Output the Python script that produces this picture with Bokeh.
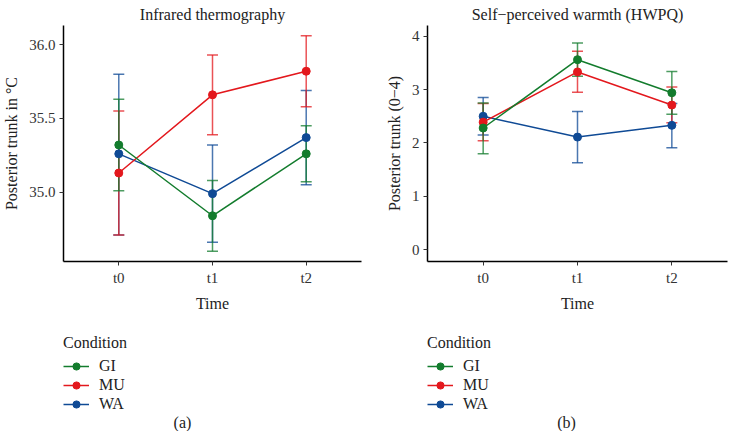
from bokeh.plotting import figure
from bokeh.models import (FactorRange, Range1d, Whisker, TeeHead, ColumnDataSource,
                          Legend, LegendItem, Label, FixedTicker)
from bokeh.layouts import row, column
from bokeh.embed import file_html
from bokeh.resources import INLINE

times = ["t0", "t1", "t2"]
conditions = ["GI", "MU", "WA"]
colors = {"GI": "#137C2D", "MU": "#E3181D", "WA": "#0F4A95"}

# Infrared thermography (°C): mean, lower, upper
ir_mean = {"GI": [35.32, 34.84, 35.26], "MU": [35.13, 35.66, 35.82], "WA": [35.26, 34.99, 35.37]}
ir_lo = {"GI": [35.01, 34.60, 35.07], "MU": [34.71, 35.39, 35.58], "WA": [34.71, 34.66, 35.05]}
ir_hi = {"GI": [35.63, 35.08, 35.45], "MU": [35.55, 35.93, 36.06], "WA": [35.80, 35.32, 35.69]}

# Self-perceived warmth (HWPQ, 0-4)
hw_mean = {"GI": [2.28, 3.56, 2.94], "MU": [2.39, 3.33, 2.71], "WA": [2.50, 2.11, 2.33]}
hw_lo = {"GI": [1.80, 3.25, 2.54], "MU": [2.04, 2.95, 2.38], "WA": [2.15, 1.63, 1.91]}
hw_hi = {"GI": [2.75, 3.87, 3.34], "MU": [2.74, 3.72, 3.05], "WA": [2.85, 2.59, 2.74]}

ir_ticks = [35.0, 35.5, 36.0]
hw_ticks = [0, 1, 2, 3, 4]

FONT = "Liberation Serif"
PLOT_H = 314
LEG_H = 117


def make_panel(title, ylabel, mean, lo, hi, yrange, yticks, caption, width, bl, br, cap_x, fmt):
    p = figure(x_range=FactorRange(*times, range_padding=0.09, range_padding_units="absolute"),
               y_range=Range1d(*yrange), width=width, height=PLOT_H,
               output_backend="svg", toolbar_location=None,
               min_border_left=bl, min_border_right=br, min_border_top=22, min_border_bottom=48)
    p.title.text = title
    p.title.align = "center"
    p.title.text_font = FONT
    p.title.text_font_style = "normal"
    p.title.text_font_size = "16px"
    p.title.text_color = "#222222"
    p.title.standoff = 6
    p.outline_line_color = None
    p.xgrid.visible = False
    p.ygrid.visible = False

    for ax in (p.xaxis[0], p.yaxis[0]):
        ax.axis_line_color = "black"
        ax.axis_line_width = 1.5
        ax.major_tick_line_color = "#333333"
        ax.major_tick_out = 4
        ax.major_tick_in = 0
        ax.minor_tick_line_color = None
        ax.major_label_text_font = FONT
        ax.major_label_text_font_size = "15px"
        ax.major_label_text_color = "#333333"
        ax.axis_label_text_font = FONT
        ax.axis_label_text_font_size = "16px"
        ax.axis_label_text_font_style = "normal"
        ax.axis_label_text_color = "#222222"
        ax.major_label_standoff = 4
        ax.axis_label_standoff = 6
    p.xaxis.axis_label = "Time"
    p.yaxis.axis_label = ylabel
    p.yaxis.ticker = FixedTicker(ticks=yticks)
    p.yaxis.major_label_overrides = {t: fmt.format(t) for t in yticks}

    for c in ["WA", "MU", "GI"]:
        src = ColumnDataSource(dict(x=times, y=mean[c], lo=lo[c], hi=hi[c]))
        col = colors[c]
        w = Whisker(base="x", upper="hi", lower="lo", source=src,
                    line_color=col, line_width=1.5, line_alpha=0.75,
                    upper_head=TeeHead(size=11, line_color=col, line_width=1.5, line_alpha=0.75),
                    lower_head=TeeHead(size=11, line_color=col, line_width=1.5, line_alpha=0.75))
        p.add_layout(w)
        p.line("x", "y", source=src, line_color=col, line_width=1.5)
        p.scatter("x", "y", source=src, size=8, fill_color=col, line_color=col)

    # legend + caption area (its frame lines up with the plot frame above)
    q = figure(x_range=Range1d(0, 1), y_range=Range1d(0, 1), width=width, height=LEG_H,
               output_backend="svg", toolbar_location=None,
               x_axis_location=None, y_axis_location=None,
               min_border=0, min_border_left=0, min_border_right=0,
               min_border_top=0, min_border_bottom=0)
    q.grid.visible = False
    q.outline_line_color = None
    items = []
    for c in conditions:
        dummy = ColumnDataSource(dict(x=[float("nan")], y=[float("nan")]))
        col = colors[c]
        lr = q.line("x", "y", source=dummy, line_color=col, line_width=1.5)
        sr = q.scatter("x", "y", source=dummy, size=8, fill_color=col, line_color=col)
        items.append(LegendItem(label=c, renderers=[lr, sr]))
    legend = Legend(items=items, title="Condition", location=(0, 18),
                    orientation="vertical")
    legend.title_text_font = FONT
    legend.title_text_font_size = "16px"
    legend.title_text_font_style = "normal"
    legend.title_text_color = "#222222"
    legend.title_standoff = 5
    legend.label_text_font = FONT
    legend.label_text_font_size = "16px"
    legend.label_text_color = "#222222"
    legend.glyph_width = 26
    legend.glyph_height = 18
    legend.label_height = 18
    legend.spacing = 1
    legend.label_standoff = 10
    legend.padding = 0
    legend.margin = 0
    legend.border_line_color = None
    legend.background_fill_alpha = 0
    q.add_layout(legend)
    q.add_layout(Label(x=cap_x, y=1, x_units="screen", y_units="screen", text=caption,
                       text_align="center", text_baseline="bottom", text_font=FONT,
                       text_font_size="16px", text_color="#222222"))
    return column(p, q, spacing=0)


p1 = make_panel("Infrared thermography", "Posterior trunk in °C", ir_mean, ir_lo, ir_hi,
                (34.53, 36.13), ir_ticks, "(a)", 366, 58, 5, 119, "{:.1f}")
p2 = make_panel("Self\u2212perceived warmth (HWPQ)", "Posterior trunk (0\u22124)", hw_mean, hw_lo, hw_hi,
                (-0.22, 4.2), hw_ticks, "(b)", 367, 61, 6, 139, "{:d}")

layout = row(p1, p2, spacing=0)
open("out.html", "w").write(file_html(layout, INLINE))
